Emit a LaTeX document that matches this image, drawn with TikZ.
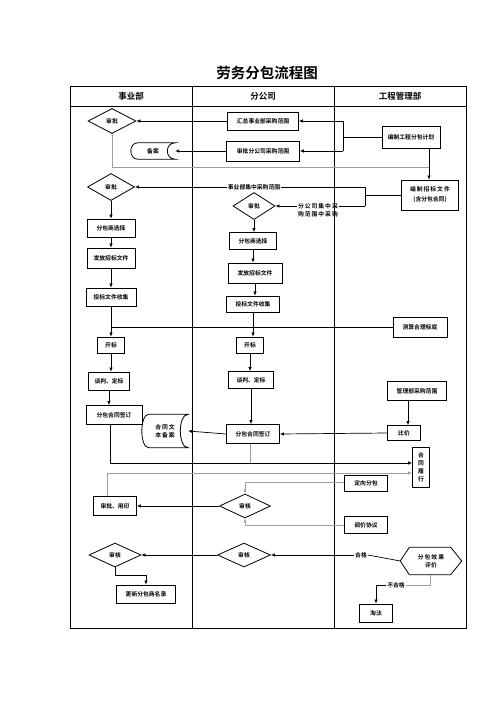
\documentclass[tikz,border=0pt]{standalone}
\usepackage{fontspec}
\newfontfamily\cjk{Noto Sans CJK SC}[BoldFont={Noto Sans CJK SC Bold}]
\usepackage{xcolor}
\usepackage{tikz}
\usetikzlibrary{shapes.geometric,arrows.meta,positioning}
\newcommand\smtxt{\cjk\bfseries\fontsize{5.8pt}{8pt}\selectfont}
\newcommand\storepath[1]{%
  \draw[line width=.8pt] ([xshift=7pt]#1.north west) -- (#1.north east)
    .. controls +(-10.5pt,0pt) and +(-10.5pt,0pt) .. (#1.south east)
    -- ([xshift=7pt]#1.south west)
    .. controls +(-9.3pt,0pt) and +(-9.3pt,0pt) .. ([xshift=7pt]#1.north west);}
\newcommand\hexpath[1]{%
  \draw[line width=.8pt] (#1.west) -- ([xshift=9pt]#1.north west)
    -- ([xshift=-11pt]#1.north east) -- (#1.east)
    -- ([xshift=-11pt]#1.south east) -- ([xshift=9pt]#1.south west) -- cycle;}

\begin{document}
\begin{tikzpicture}[x=1pt, y=-1pt,
    box/.style={draw, line width=.8pt, inner sep=1pt, minimum width=#1,
                minimum height=18pt, font=\smtxt, align=center},
    dia/.style={diamond, draw, line width=.8pt, inner sep=0pt, minimum width=#1,
                minimum height=25pt, font=\smtxt},
    store/.style={inner sep=0pt, minimum width=#1, minimum height=16pt,
                  font=\smtxt, align=center},
    lbl/.style={inner sep=1pt, font=\smtxt, align=left},
    arr/.style={-{Latex[length=4pt,width=3.5pt]}, line width=.7pt},
    ln/.style={line width=.7pt},
    gl/.style={draw=gray!75}
]
\useasboundingbox (0,0) rectangle (496,702);

\node[font=\cjk\bfseries\fontsize{14.5pt}{16pt}\selectfont] (title) at (267,73) {劳务分包流程图};

% lanes
\draw[line width=.8pt] (70,86) rectangle (466,628);
\draw[line width=.8pt] (70,106) -- (466,106);
\draw[line width=.8pt] (192,86) -- (192,628);
\draw[line width=.8pt] (334,86) -- (334,628);
\node[font=\cjk\bfseries\fontsize{8.5pt}{10pt}\selectfont] (hd1) at (131,96) {事业部};
\node[font=\cjk\bfseries\fontsize{8.5pt}{10pt}\selectfont] (hd2) at (263,96) {分公司};
\node[font=\cjk\bfseries\fontsize{8.5pt}{10pt}\selectfont] (hd3) at (400,96) {工程管理部};

% top part
\node[dia=48pt]              (sp1)   at (112,121) {审批};
\node[store=44pt]            (ba)    at (153,151) {备案};
\storepath{ba}
\node[box=71pt]              (hz)    at (263,121) {汇总事业部采购范围};
\node[box=73pt, minimum height=20pt] (spfgs) at (263,151) {审批分公司采购范围};
\node[box=58pt, minimum height=22pt] (bzjh)  at (411,137) {编制工程分包计划};
\node[box=57pt, minimum height=30pt] (bzzb)  at (430,195)
                             {编\,制\,招\,标\,文\,件\\[2pt](含分包合同)};
\coordinate (j1) at (343,137);
\coordinate (j2) at (429,167);

\node[lbl]                   (lbl1)  at (254,187) {事业部集中采购范围};
\node[lbl]                   (lbl2)  at (318,210) {分\,公\,司\,集\,中\,采\\购\,范\,围\,中\,采\,购};
\coordinate (j3) at (365,187);
\coordinate (j4) at (365,206);

% chain 1
\node[dia=47pt, minimum height=27pt] (sp2) at (111,187) {审批};
\node[box=48pt]              (xz1)   at (111,228) {分包商选择};
\node[box=48pt, minimum height=20pt] (ff1) at (111,258) {发放招标文件};
\node[box=50pt]              (sj1)   at (111,297) {投标文件收集};
\node[box=27pt, minimum height=16pt] (kb1) at (111,345) {开标};
\node[box=41pt]              (tp1)   at (109,381) {谈判、定标};
\node[box=56pt, minimum height=19pt] (qd1) at (114,415) {分包合同签订};
\node[store=46pt, minimum height=33pt] (htba) at (165,431) {合\,同\,文\\本\,备\,案};
\storepath{htba}

% chain 2
\node[dia=42pt, minimum height=27pt] (sp3) at (254,206) {审批};
\node[box=47pt, minimum height=17pt] (xz2) at (253,241) {分包商选择};
\node[box=54pt, minimum height=20pt] (ff2) at (255,273) {发放招标文件};
\node[box=53pt, minimum height=16pt] (sj2) at (253,304) {投标文件收集};
\node[box=27pt, minimum height=16pt] (kb2) at (250,345) {开标};
\node[box=45pt, minimum height=17pt] (tp2) at (251,380) {谈判、定标};
\node[box=53pt, minimum height=19pt] (qd2) at (253,434) {分包合同签订};

\node[box=54pt, minimum height=20pt] (cs)   at (420,327) {测算合理标底};
\node[box=59pt, minimum height=19pt] (glfw) at (417,391) {管理部采购范围};
\node[box=33pt, minimum height=15pt] (bj)   at (404,433) {比价};
\node[box=17pt, minimum height=40pt, inner sep=0pt] (lx) at (421,467) {合\\同\\履\\行};
\coordinate (j5) at (110,463);
\coordinate (j6) at (107,473);

% bottom part
\node[box=43pt, minimum height=16pt] (dx) at (366,483) {定向分包};
\node[dia=51pt, minimum height=24pt] (sh1) at (245,506) {审核};
\node[box=43pt, minimum height=19pt] (yy) at (115,506) {审批、用印};
\node[box=43pt, minimum height=17pt] (tj) at (366,525) {调价协议};
\node[dia=52pt, minimum height=24pt] (sh2) at (115,555) {审核};
\node[dia=53pt, minimum height=24pt] (sh3) at (244,555) {审核};
\node[lbl]                   (hg)   at (361,555) {合格};
\node[store=61pt, minimum height=27pt] (pj) at (431,561) {分\,包\,效\,果\\评价};
\hexpath{pj}
\coordinate (j7) at (146,575);
\node[box=59pt]              (gx)   at (146,594) {更新分包商名录};
\coordinate (j8) at (430,585);
\node[lbl]                   (bhg)  at (396,585) {不合格};
\node[box=33pt]              (tt)   at (376,613) {淘汰};

% connectors, top
\draw[ln] (bzjh.west) -- (j1);
\draw[ln] (j1 |- hz) -- (j1 |- spfgs);
\draw[arr] (j1 |- hz) -- (hz.east);
\draw[arr] (j1 |- spfgs) -- (spfgs.east);
\draw[arr] (hz.west) -- (sp1.east);
\draw[arr] (spfgs.west) -- (ba.east);
\draw[ln, gl] (sp1.south) |- (j2);
\draw[arr] (j2 |- bzjh.south) -- (j2 |- bzzb.north);
\draw[ln] (bzzb.west) -- (bzzb.west -| j3);
\draw[ln] (j3) -- (j4);
\draw[ln] (j3) -- (lbl1.east);
\draw[arr] (lbl1.west) -- (sp2.east);
\draw[ln] (j4) -- (j4 -| lbl2.east);
\draw[arr] (j4 -| lbl2.west) -- (sp3.east);

% chains
\foreach \a/\b in {sp2/xz1, xz1/ff1, ff1/sj1, sj1/kb1, kb1/tp1, tp1/qd1,
                   sp3/xz2, xz2/ff2, ff2/sj2, sj2/kb2, kb2/tp2, tp2/qd2}
  \draw[arr] (\a.south) -- (\a.south |- \b.north);
\draw[ln] (cs.west) -- (cs.west -| sj1.south);
\draw[arr] (qd2.west) -- (htba.east);
\draw[arr] ([xshift=-9pt]glfw.south) -- ([xshift=-9pt]glfw.south |- bj.north);
\draw[arr] (bj.west) -- (qd2.east);
\draw[arr] ([xshift=-4pt]qd1.south) -- (j5) -- (j5 -| lx.west);
\draw[ln, gl] ([xshift=-3pt]qd2.south) -- ([xshift=-3pt]qd2.south |- j5);
\draw[arr, gl] (yy.north -| j6) -- (j6) -- (j6 -| lx.west);

% connectors, bottom
\draw[arr, gl] ([yshift=1pt]dx.west) -| (sh1.north);
\draw[arr] (sh1.west) -- (yy.east);
\draw[arr, gl] (tj.west) -| (sh1.south);
\draw[arr] (hg.west) -- (sh3.east);
\draw[ln] (hg.east) -- (pj.west);
\draw[arr] (sh3.west) -- (sh2.east);
\draw[arr] (sh2.south) |- (j7) -- (gx.north);
\draw[ln, gl] (j8 |- pj.south) -- (j8) -- (bhg.east);
\draw[arr] (bhg.west) -| (tt.north);
\end{tikzpicture}
\end{document}
